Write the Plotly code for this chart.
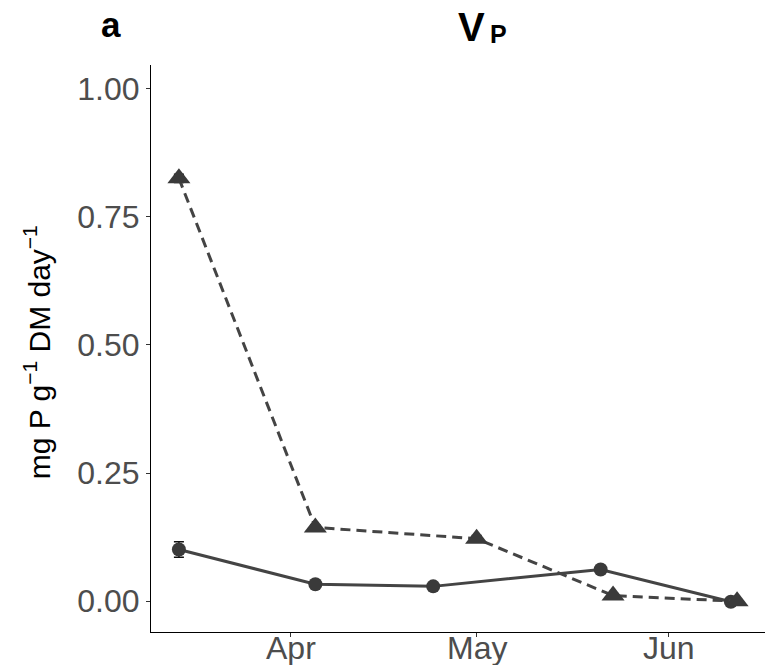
import plotly.graph_objects as go

# ---- data ----
circle_dates = ["2019-03-14", "2019-04-05", "2019-04-24", "2019-05-21", "2019-06-11"]
circle_vals = [0.101, 0.033, 0.029, 0.062, -0.001]
circle_err = [0.015, 0.004, 0.004, 0.006, 0.003]

tri_dates = ["2019-03-14", "2019-04-05", "2019-05-01", "2019-05-23", "2019-06-12"]
tri_vals = [0.825, 0.144, 0.122, 0.011, 0.000]
tri_err = [0.008, 0.005, 0.006, 0.005, 0.003]

y_ticks = [0.0, 0.25, 0.5, 0.75, 1.0]
x_ticks = ["2019-04-01", "2019-05-01", "2019-06-01"]
x_tick_labels = ["Apr", "May", "Jun"]

title_main = "V"
title_sub = "P"
panel_label = "a"
y_title = "mg P g<sup>−1</sup> DM day<sup>−1</sup>"

FONT = "Liberation Sans, Arial, sans-serif"
DARK = "#3a3a3a"

fig = go.Figure()

fig.add_trace(go.Scatter(
    x=circle_dates, y=circle_vals, mode="lines+markers",
    line=dict(color="#444444", width=3, dash="solid"),
    marker=dict(symbol="circle", size=14, color=DARK),
    error_y=dict(type="data", array=circle_err, visible=True,
                 color="#111111", thickness=1.5, width=5),
    showlegend=False,
))

fig.add_trace(go.Scatter(
    x=tri_dates, y=tri_vals, mode="lines+markers",
    line=dict(color="#444444", width=3, dash="10px,6px"),
    marker=dict(symbol="triangle-up", size=20, color=DARK),
    error_y=dict(type="data", array=tri_err, visible=True,
                 color="#111111", thickness=1.5, width=5),
    showlegend=False,
))

# x tick labels drawn as annotations so they sit close to the axis
x_label_annotations = [
    dict(text=lab, x=tv, y=-0.028, xref="x", yref="paper",
         xanchor="center", yanchor="middle", showarrow=False,
         font=dict(size=32, color="#4d4d4d", family=FONT))
    for tv, lab in zip(x_ticks, x_tick_labels)
]

fig.update_layout(
    width=768, height=665,
    margin=dict(l=151, r=3, t=65, b=33),
    paper_bgcolor="white", plot_bgcolor="white",
    font=dict(family=FONT, color="#4d4d4d"),
    xaxis=dict(
        type="date",
        range=["2019-03-09 12:00", "2019-06-16 12:00"],
        tickvals=x_ticks, ticktext=x_tick_labels, showticklabels=False,
        showgrid=False, zeroline=False,
        showline=True, linecolor="black", linewidth=1,
        ticks="outside", ticklen=4, tickcolor="#333333", tickwidth=1,
        automargin=False,
    ),
    yaxis=dict(
        range=[-0.06, 1.046],
        tickvals=y_ticks, tickformat=".2f",
        showgrid=False, zeroline=False,
        showline=True, linecolor="black", linewidth=1,
        ticks="outside", ticklen=4, tickcolor="#333333", tickwidth=1,
        tickfont=dict(size=32, color="#4d4d4d", family=FONT),
        automargin=False,
    ),
    annotations=x_label_annotations + [
        dict(text="<b>" + panel_label + "</b>", x=-0.0647, y=1.0715,
             xref="paper", yref="paper", xanchor="center", yanchor="middle",
             showarrow=False, font=dict(size=35, color="black", family=FONT)),
        dict(text="<b>" + title_main + "</b>", x=0.5225, y=1.067,
             xref="paper", yref="paper", xanchor="center", yanchor="middle",
             showarrow=False, font=dict(size=40, color="black", family=FONT)),
        dict(text="<b>" + title_sub + "</b>", x=0.5666, y=1.0545,
             xref="paper", yref="paper", xanchor="center", yanchor="middle",
             showarrow=False, font=dict(size=25, color="black", family=FONT)),
        dict(text=y_title, x=-0.185, y=0.494, textangle=-90,
             xref="paper", yref="paper", xanchor="center", yanchor="middle",
             showarrow=False, font=dict(size=30, color="black", family=FONT)),
    ],
)

fig.write_html(
    "out.html",
    config={"displayModeBar": False},
    post_script="document.body.style.margin='0';document.body.style.overflow='hidden';",
)
